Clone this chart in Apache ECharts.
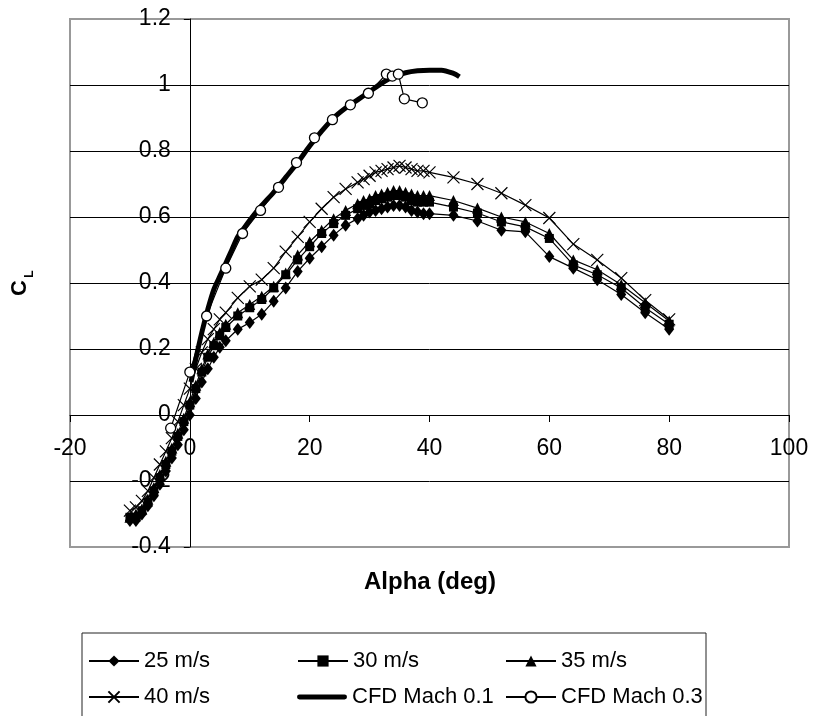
<!DOCTYPE html>
<html><head><meta charset="utf-8">
<script src="https://cdn.jsdelivr.net/npm/echarts@6/dist/echarts.min.js"></script>
<style>html,body{margin:0;padding:0;background:#fff}#c{width:814px;height:716px}</style>
</head><body><div id="c"></div>
<script>
// ---- data ----
const alphaExp = [-10,-9,-8,-7,-6,-5,-4,-3,-2,-1,0,1,2,3,4,5,6,8,10,12,14,16,18,20,22,24,26,28,29,30,31,32,33,34,35,36,37,38,39,40,44,48,52,56,60,64,68,72,76,80];
const cl25 = [-0.32,-0.32,-0.30,-0.275,-0.245,-0.21,-0.17,-0.13,-0.09,-0.045,0.0,0.05,0.10,0.14,0.175,0.205,0.225,0.26,0.28,0.305,0.345,0.385,0.435,0.475,0.51,0.545,0.575,0.595,0.605,0.615,0.62,0.625,0.63,0.635,0.635,0.63,0.62,0.615,0.61,0.61,0.605,0.588,0.56,0.555,0.48,0.445,0.41,0.365,0.31,0.26];
const cl30 = [-0.31,-0.31,-0.29,-0.265,-0.23,-0.19,-0.15,-0.11,-0.065,-0.02,0.03,0.08,0.13,0.175,0.21,0.24,0.265,0.30,0.325,0.35,0.385,0.425,0.47,0.51,0.55,0.58,0.605,0.625,0.635,0.64,0.65,0.655,0.66,0.665,0.665,0.66,0.65,0.645,0.645,0.645,0.63,0.612,0.585,0.57,0.535,0.455,0.425,0.385,0.325,0.275];
const cl35 = [-0.31,-0.30,-0.285,-0.255,-0.22,-0.18,-0.14,-0.10,-0.055,-0.01,0.04,0.09,0.14,0.185,0.22,0.25,0.275,0.31,0.335,0.36,0.39,0.43,0.485,0.525,0.56,0.595,0.62,0.64,0.65,0.655,0.665,0.67,0.675,0.68,0.68,0.675,0.67,0.665,0.665,0.665,0.65,0.627,0.60,0.585,0.55,0.47,0.44,0.395,0.34,0.285];
const cl40 = [-0.29,-0.28,-0.26,-0.23,-0.19,-0.15,-0.11,-0.07,-0.02,0.03,0.08,0.14,0.19,0.23,0.26,0.29,0.31,0.355,0.39,0.41,0.445,0.495,0.54,0.585,0.625,0.66,0.685,0.705,0.715,0.725,0.735,0.74,0.745,0.75,0.755,0.75,0.745,0.74,0.74,0.735,0.72,0.70,0.672,0.636,0.597,0.518,0.47,0.415,0.348,0.29];
const alphaM01 = [0.2,1,2,3,4,5,6,7,8,9,10,12,14,16,18,20,22,24,26,28,30,32,34,36,38,40,42,44,45];
const clM01 = [0.10,0.17,0.25,0.32,0.38,0.42,0.46,0.50,0.54,0.565,0.59,0.635,0.675,0.72,0.765,0.815,0.86,0.90,0.93,0.955,0.98,1.005,1.025,1.037,1.043,1.045,1.045,1.035,1.025];
const alphaM03 = [-3.2,0,2.8,6,8.8,11.8,14.8,17.8,20.8,23.8,26.8,29.8,32.8,33.8,34.8,35.8,38.8];
const clM03 = [-0.04,0.13,0.30,0.445,0.55,0.62,0.69,0.765,0.84,0.895,0.94,0.975,1.033,1.027,1.033,0.958,0.946];
const seriesNames = ['25 m/s','30 m/s','35 m/s','40 m/s','CFD Mach 0.1','CFD Mach 0.3'];
const xTickMin = -20, xTickMax = 100, xTickStep = 20;
const yTickMin = -0.4, yTickMax = 1.2, yTickStep = 0.2;

// ---- chart ----
const FONT = 'Liberation Sans, Arial, sans-serif';
const pairs = (xs, ys) => xs.map((x, i) => [x, ys[i]]);
const chart = echarts.init(document.getElementById('c'), null, {renderer: 'canvas'});
const expLine = {color: '#000', width: 1.2};
const crossPath = 'path://M0,0L10,10M10,0L0,10';

const G = {left: 70, top: 19, width: 719, height: 528};
// pixel offsets that move the axes onto the zero lines
const xZeroPx = G.width * (0 - xTickMin) / (xTickMax - xTickMin);
const yZeroPx = G.height * (yTickMax - 0) / (yTickMax - yTickMin);

const legendPos = [
  [88, 650], [297, 650], [505, 650],
  [88, 686], [297, 686], [505, 686]
];
const legends = seriesNames.map((n, i) => {
  const item = {name: n};
  const L = {
    data: [item], left: legendPos[i][0], top: legendPos[i][1],
    orient: 'horizontal', itemWidth: 50, itemHeight: 14, itemGap: 0,
    selectedMode: false, padding: 0,
    textStyle: {fontFamily: FONT, fontSize: 22, color: '#000'}
  };
  if (n === 'CFD Mach 0.1') {
    item.icon = 'path://M2,0L48,0A2.5,2.5,0,0,1,48,5L2,5A2.5,2.5,0,0,1,2,0Z';
    item.itemStyle = {color: '#000', borderWidth: 0};
    L.itemHeight = 5;
  }
  return L;
});

chart.setOption({
  animation: false,
  backgroundColor: '#fff',
  grid: Object.assign({show: true, borderColor: '#999', borderWidth: 2, backgroundColor: 'transparent', outerBoundsMode: 'none'}, G),
  xAxis: {
    type: 'value', min: xTickMin, max: xTickMax, interval: xTickStep,
    position: 'bottom', offset: -(G.height - yZeroPx),
    axisLine: {onZero: false, lineStyle: {color: '#000', width: 1}},
    axisTick: {show: true, length: 7, lineStyle: {color: '#000'}},
    axisLabel: {fontFamily: FONT, fontSize: 23, color: '#000', margin: 22},
    splitLine: {show: false}
  },
  yAxis: {
    type: 'value', min: yTickMin, max: yTickMax, interval: yTickStep,
    position: 'left', offset: -xZeroPx,
    axisLine: {onZero: false, lineStyle: {color: '#000', width: 1}},
    axisTick: {show: true, length: 6, lineStyle: {color: '#000'}},
    axisLabel: {fontFamily: FONT, fontSize: 23, color: '#000', margin: 19,
      formatter: v => String(Math.round(v * 10) / 10)},
    splitLine: {show: true, showMinLine: false, showMaxLine: false, lineStyle: {color: '#000', width: 1}}
  },
  legend: legends,
  graphic: [
    {type: 'rect', shape: {x: 82, y: 633, width: 624, height: 110}, style: {fill: 'none', stroke: '#222', lineWidth: 1}, silent: true},
    {type: 'text', x: 430, y: 582, style: {text: 'Alpha (deg)', font: 'bold 24px ' + FONT, fill: '#000', align: 'center', verticalAlign: 'middle'}},
    {type: 'text', x: 20, y: 288, rotation: Math.PI / 2, originX: 0, originY: 0,
      style: {text: 'C', font: 'bold 22px ' + FONT, fill: '#000', align: 'center', verticalAlign: 'middle'}},
    {type: 'text', x: 30, y: 274, rotation: Math.PI / 2, originX: 0, originY: 0,
      style: {text: 'L', font: 'bold 12px ' + FONT, fill: '#000', align: 'center', verticalAlign: 'middle'}}
  ],
  series: [
    {name: '25 m/s', type: 'line', data: pairs(alphaExp, cl25), symbol: 'diamond', symbolSize: [10, 13],
      lineStyle: expLine, itemStyle: {color: '#000'}},
    {name: '30 m/s', type: 'line', data: pairs(alphaExp, cl30), symbol: 'rect', symbolSize: 9,
      lineStyle: expLine, itemStyle: {color: '#000'}},
    {name: '35 m/s', type: 'line', data: pairs(alphaExp, cl35), symbol: 'triangle', symbolSize: [11, 11],
      lineStyle: expLine, itemStyle: {color: '#000'}},
    {name: '40 m/s', type: 'line', data: pairs(alphaExp, cl40), symbol: crossPath, symbolSize: 12,
      lineStyle: expLine, itemStyle: {color: 'transparent', borderColor: '#000', borderWidth: 1.2}},
    {name: 'CFD Mach 0.1', type: 'line', data: pairs(alphaM01, clM01), symbol: 'none', smooth: 0.3,
      lineStyle: {color: '#000', width: 5}, itemStyle: {color: '#000'}},
    {name: 'CFD Mach 0.3', type: 'line', data: pairs(alphaM03, clM03), symbol: 'circle', symbolSize: 10,
      lineStyle: expLine, itemStyle: {color: '#fff', borderColor: '#000', borderWidth: 1.3}}
  ]
});
</script></body></html>
